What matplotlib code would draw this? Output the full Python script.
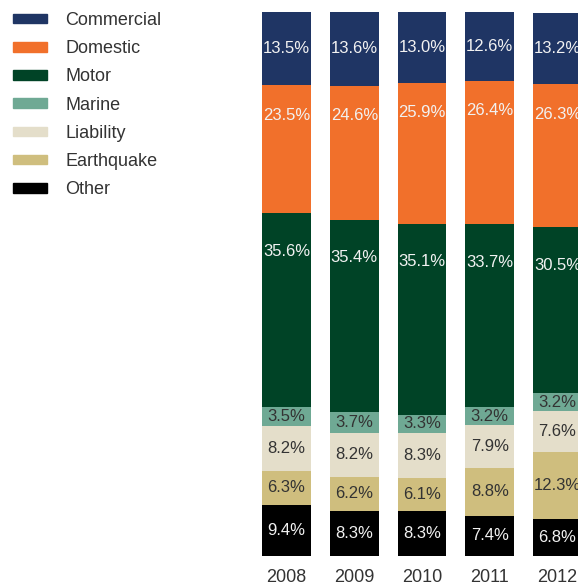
import matplotlib.pyplot as plt
from matplotlib.patches import Patch

plt.rcParams['font.family'] = ['Liberation Sans', 'DejaVu Sans']

years = ['2008', '2009', '2010', '2011', '2012']
categories = ['Commercial', 'Domestic', 'Motor', 'Marine', 'Liability', 'Earthquake', 'Other']
commercial = [13.5, 13.6, 13.0, 12.6, 13.2]
domestic = [23.5, 24.6, 25.9, 26.4, 26.3]
motor = [35.6, 35.4, 35.1, 33.7, 30.5]
marine = [3.5, 3.7, 3.3, 3.2, 3.2]
liability = [8.2, 8.2, 8.3, 7.9, 7.6]
earthquake = [6.3, 6.2, 6.1, 8.8, 12.3]
other = [9.4, 8.3, 8.3, 7.4, 6.8]

colors = ['#1f3564', '#f1702b', '#004326', '#6fa994', '#e4deca', '#cfbe7e', '#000000']
text_colors = ['#f2f2f2', '#f2f2f2', '#f2f2f2', '#333333', '#333333', '#333333', '#f2f2f2']
# label offset from segment top in pixels (None = centered)
label_offsets = [None, 30, 38, None, None, None, None]

series = [commercial, domestic, motor, marine, liability, earthquake, other]

fig = plt.figure(figsize=(5.78, 5.88), dpi=100)
ax = fig.add_axes([262 / 578, 32 / 588, 316 / 578, 544 / 588])

x = list(range(len(years)))
# stack from the bottom: Other first, Commercial on top
bottoms = [0.0] * len(years)
for i in reversed(range(len(categories))):
    vals = series[i]
    ax.bar(x, vals, width=0.72, bottom=bottoms, color=colors[i], label=categories[i])
    for j, v in enumerate(vals):
        top = bottoms[j] + v
        if label_offsets[i] is None:
            ax.text(x[j], bottoms[j] + v / 2, f'{v:.1f}%', ha='center', va='center',
                    color=text_colors[i], fontsize=12)
        else:
            ax.annotate(f'{v:.1f}%', (x[j], top), xytext=(0, -label_offsets[i]),
                        textcoords='offset pixels', ha='center', va='center',
                        color=text_colors[i], fontsize=12)
    bottoms = [b + v for b, v in zip(bottoms, vals)]

ax.set_xlim(-0.362, 4.302)
ax.set_ylim(0, 100)
for s in ax.spines.values():
    s.set_visible(False)
ax.set_yticks([])
ax.set_xticks(x)
ax.set_xticklabels(years, fontsize=13, color='#333333')
ax.tick_params(axis='x', length=0, pad=9)

handles = [Patch(color=c) for c in colors]
fig.legend(handles, categories, loc='upper left', bbox_to_anchor=(4 / 578, 1 - 3 / 588),
           frameon=False, fontsize=13, handlelength=1.9, handleheight=0.45,
           handletextpad=1.0, labelspacing=0.62, borderpad=0, labelcolor='#333333')

fig.savefig('out.png', dpi=100)
